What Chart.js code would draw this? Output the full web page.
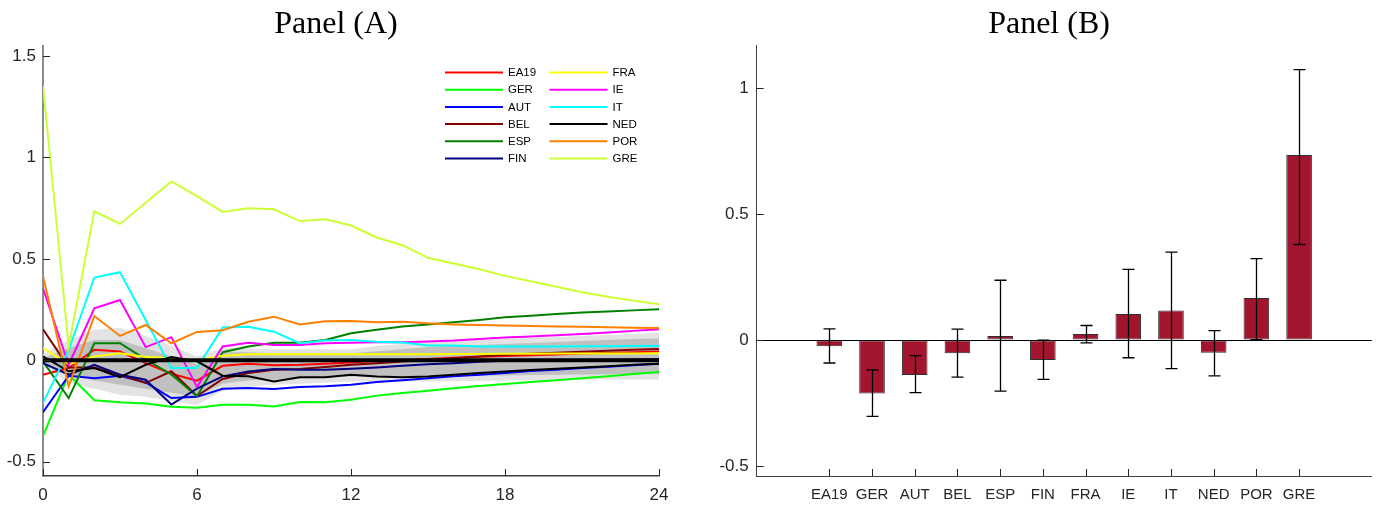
<!DOCTYPE html>
<html>
<head>
<meta charset="utf-8">
<script src="https://cdn.jsdelivr.net/npm/chart.js@4.4.1/dist/chart.umd.min.js"></script>
<style>
  body { margin: 0; background: #fff; }
  #panelA { position: absolute; left: 0; top: 0; }
  #panelB { position: absolute; left: 718px; top: 0; }
</style>
</head>
<body>
<canvas id="panelA" width="672" height="512"></canvas>
<canvas id="panelB" width="662" height="512"></canvas>
<script>
// 国家列表和颜色
const countries = ['EA19', 'GER', 'AUT', 'BEL', 'ESP', 'FIN', 'FRA', 'IE', 'IT', 'NED', 'POR', 'GRE'];
const lineColors = ['#ff0000', '#00ff00', '#0000ff', '#800000', '#008000', '#000080',
                    '#ffff00', '#ff00ff', '#00ffff', '#000000', '#ff8000', '#ccff33'];

// Panel (A) 横轴：月份
const months = [0, 1, 2, 3, 4, 5, 6, 7, 8, 9, 10, 11, 12, 13, 14, 15, 16, 17, 18, 19, 20, 21, 22, 23, 24];
const xTicksA = [0, 6, 12, 18, 24];
const yTicksA = [-0.5, 0, 0.5, 1, 1.5];

// 各国脉冲响应
const ea19 = [-0.071, -0.038, 0.052, 0.043, -0.014, -0.066, -0.100, -0.027, -0.017, -0.024, -0.022, -0.017, -0.011, -0.002, 0.002, 0.007, 0.012, 0.017, 0.021, 0.025, 0.029, 0.033, 0.036, 0.040, 0.043];
const ger = [-0.374, -0.070, -0.197, -0.207, -0.213, -0.229, -0.234, -0.219, -0.219, -0.227, -0.205, -0.207, -0.194, -0.174, -0.161, -0.150, -0.138, -0.127, -0.117, -0.107, -0.098, -0.088, -0.078, -0.068, -0.058];
const aut = [-0.256, -0.076, -0.088, -0.076, -0.109, -0.186, -0.180, -0.140, -0.137, -0.141, -0.131, -0.128, -0.120, -0.107, -0.098, -0.089, -0.079, -0.071, -0.062, -0.053, -0.047, -0.038, -0.032, -0.024, -0.017];
const bel = [0.153, -0.035, -0.035, -0.071, -0.112, -0.054, -0.176, -0.092, -0.063, -0.046, -0.043, -0.033, -0.022, -0.015, -0.006, 0.002, 0.010, 0.019, 0.027, 0.032, 0.037, 0.042, 0.047, 0.052, 0.056];
const esp = [-0.006, -0.186, 0.084, 0.084, 0.005, -0.070, -0.177, 0.040, 0.068, 0.087, 0.087, 0.100, 0.133, 0.150, 0.166, 0.177, 0.187, 0.199, 0.212, 0.220, 0.228, 0.236, 0.241, 0.246, 0.251];
const fin = [-0.014, -0.071, -0.022, -0.071, -0.096, -0.218, -0.140, -0.079, -0.055, -0.043, -0.047, -0.047, -0.042, -0.035, -0.027, -0.020, -0.014, -0.007, -0.002, 0.000, 0.001, 0.002, 0.003, 0.004, 0.005];
const fra = [0.060, -0.020, 0.019, 0.035, 0.016, 0.011, 0.002, 0.022, 0.030, 0.030, 0.030, 0.030, 0.030, 0.030, 0.030, 0.030, 0.031, 0.031, 0.032, 0.032, 0.033, 0.033, 0.034, 0.034, 0.035];
const ie = [0.354, -0.022, 0.256, 0.297, 0.065, 0.114, -0.132, 0.068, 0.087, 0.076, 0.076, 0.084, 0.087, 0.089, 0.089, 0.093, 0.097, 0.105, 0.112, 0.117, 0.124, 0.130, 0.137, 0.145, 0.153];
const it = [-0.210, 0.050, 0.408, 0.434, 0.199, -0.038, -0.038, 0.162, 0.165, 0.141, 0.084, 0.098, 0.100, 0.092, 0.088, 0.073, 0.073, 0.068, 0.068, 0.068, 0.068, 0.069, 0.069, 0.070, 0.071];
const ned = [0.019, -0.054, -0.038, -0.083, -0.022, 0.016, -0.005, -0.076, -0.079, -0.104, -0.083, -0.083, -0.071, -0.080, -0.083, -0.080, -0.071, -0.063, -0.055, -0.048, -0.042, -0.035, -0.029, -0.022, -0.017];
const por = [0.415, -0.128, 0.218, 0.120, 0.174, 0.084, 0.140, 0.148, 0.190, 0.215, 0.177, 0.192, 0.194, 0.187, 0.190, 0.182, 0.177, 0.174, 0.171, 0.169, 0.167, 0.165, 0.163, 0.161, 0.159];
const gre = [1.352, 0.070, 0.734, 0.672, 0.776, 0.881, 0.809, 0.731, 0.749, 0.744, 0.686, 0.695, 0.664, 0.605, 0.567, 0.505, 0.477, 0.449, 0.416, 0.390, 0.362, 0.335, 0.313, 0.294, 0.276];
const seriesA = [ea19, ger, aut, bel, esp, fin, fra, ie, it, ned, por, gre];

// 置信区间（外层浅灰、内层深灰）
const bandOuterHi = [0.03, 0.10, 0.15, 0.16, 0.12, 0.07, 0.02, 0.06, 0.06, 0.055, 0.055, 0.055, 0.055, 0.07, 0.08, 0.09, 0.095, 0.10, 0.105, 0.11, 0.115, 0.12, 0.125, 0.13, 0.135];
const bandOuterLo = [-0.03, -0.11, -0.14, -0.17, -0.18, -0.20, -0.22, -0.15, -0.13, -0.12, -0.115, -0.11, -0.105, -0.105, -0.105, -0.104, -0.103, -0.102, -0.10, -0.098, -0.097, -0.096, -0.095, -0.095, -0.095];
const bandInnerHi = [0.01, 0.06, 0.10, 0.10, 0.06, 0.02, -0.02, 0.04, 0.04, 0.035, 0.035, 0.035, 0.035, 0.045, 0.055, 0.065, 0.07, 0.075, 0.08, 0.085, 0.09, 0.095, 0.10, 0.105, 0.108];
const bandInnerLo = [-0.01, -0.07, -0.10, -0.12, -0.14, -0.16, -0.18, -0.115, -0.10, -0.095, -0.09, -0.085, -0.08, -0.08, -0.08, -0.08, -0.078, -0.076, -0.075, -0.073, -0.071, -0.07, -0.069, -0.068, -0.068];
const zeroLine = [0, 0, 0, 0, 0, 0, 0, 0, 0, 0, 0, 0, 0, 0, 0, 0, 0, 0, 0, 0, 0, 0, 0, 0, 0];

// Panel (B) 柱状图数据和误差范围
const barValues = [-0.024, -0.212, -0.139, -0.052, 0.016, -0.079, 0.024, 0.104, 0.118, -0.050, 0.167, 0.736];
const errHigh = [0.045, -0.118, -0.062, 0.044, 0.238, 0.000, 0.058, 0.281, 0.350, 0.038, 0.324, 1.075];
const errLow = [-0.091, -0.303, -0.209, -0.147, -0.203, -0.156, -0.011, -0.070, -0.113, -0.142, 0.002, 0.380];
const yTicksB = [-0.5, 0, 0.5, 1];

const sansFont = '"Liberation Sans", Arial, sans-serif';
const titleFont = { family: '"Liberation Serif", "Times New Roman", serif', size: 32, weight: 'normal', lineHeight: 1.2 };

// 刻度线画在坐标轴内侧
const innerTicks = {
    id: 'innerTicks',
    afterDraw(chart) {
        const { ctx, chartArea: area, scales: { x, y } } = chart;
        ctx.save();
        ctx.strokeStyle = '#262626';
        ctx.lineWidth = 1;
        ctx.beginPath();
        y.ticks.forEach(t => {
            const py = Math.round(y.getPixelForValue(t.value)) + 0.5;
            ctx.moveTo(area.left, py);
            ctx.lineTo(area.left + 7, py);
        });
        x.ticks.forEach(t => {
            const px = Math.round(x.getPixelForValue(t.value)) + 0.5;
            ctx.moveTo(px, area.bottom);
            ctx.lineTo(px, area.bottom - 7);
        });
        ctx.stroke();
        ctx.restore();
    }
};

// 阴影带：在曲线之前画，裁剪到坐标轴范围内
const bandsA = {
    id: 'bandsA',
    beforeDatasetsDraw(chart) {
        const { ctx, chartArea: area, scales: { x, y } } = chart;
        const bands = [
            { hi: bandOuterHi, lo: bandOuterLo, color: '#e3e3e3' },
            { hi: bandInnerHi, lo: bandInnerLo, color: '#c0c0c0' }
        ];
        const left = x.getPixelForValue(x.min);
        const right = x.getPixelForValue(x.max);
        ctx.save();
        ctx.beginPath();
        ctx.rect(left, area.top, right - left, area.bottom - area.top);
        ctx.clip();
        bands.forEach(b => {
            ctx.beginPath();
            months.forEach((m, i) => {
                const px = x.getPixelForValue(m), py = y.getPixelForValue(b.hi[i]);
                if (i === 0) ctx.moveTo(px, py); else ctx.lineTo(px, py);
            });
            for (let i = months.length - 1; i >= 0; i--) {
                ctx.lineTo(x.getPixelForValue(months[i]), y.getPixelForValue(b.lo[i]));
            }
            ctx.closePath();
            ctx.fillStyle = b.color;
            ctx.fill();
        });
        ctx.restore();
    }
};

// 两列图例（按列排列）
const legendA = {
    id: 'legendA',
    afterDraw(chart) {
        const ctx = chart.ctx;
        ctx.save();
        ctx.font = '11.5px ' + sansFont;
        ctx.textBaseline = 'middle';
        ctx.fillStyle = '#000';
        countries.forEach((name, i) => {
            const col = Math.floor(i / 6);
            const row = i % 6;
            const x0 = 445 + col * 104.5;
            const y0 = 72.5 + row * 17.2;
            ctx.strokeStyle = lineColors[i];
            ctx.lineWidth = 2;
            ctx.beginPath();
            ctx.moveTo(x0, y0);
            ctx.lineTo(x0 + 58, y0);
            ctx.stroke();
            ctx.fillText(name, x0 + 63, y0 + 0.5);
        });
        ctx.restore();
    }
};

// 误差线
const errorBars = {
    id: 'errorBars',
    afterDatasetsDraw(chart) {
        const { ctx, scales: { x, y } } = chart;
        ctx.save();
        ctx.strokeStyle = '#000';
        ctx.lineWidth = 1.3;
        countries.forEach((name, i) => {
            const px = Math.round(x.getPixelForValue(i + 1)) + 0.5;
            const top = y.getPixelForValue(errHigh[i]);
            const bot = y.getPixelForValue(errLow[i]);
            ctx.beginPath();
            ctx.moveTo(px, top); ctx.lineTo(px, bot);
            ctx.moveTo(px - 6, top); ctx.lineTo(px + 6, top);
            ctx.moveTo(px - 6, bot); ctx.lineTo(px + 6, bot);
            ctx.stroke();
        });
        ctx.restore();
    }
};

function renderPanelA() {
    const ctx = document.getElementById('panelA').getContext('2d');

    // 零线放在最上面，然后是各国曲线（GRE 在上）
    const datasets = [{
        data: zeroLine, borderColor: '#000', borderWidth: 4
    }];
    for (let i = countries.length - 1; i >= 0; i--) {
        datasets.push({ label: countries[i], data: seriesA[i], borderColor: lineColors[i], borderWidth: 2 });
    }

    new Chart(ctx, {
        type: 'line',
        data: { labels: months, datasets: datasets },
        options: {
            responsive: false,
            animation: false,
            devicePixelRatio: 1,
            events: [],
            layout: { padding: 0 },
            elements: { point: { radius: 0 }, line: { tension: 0, fill: false } },
            scales: {
                x: {
                    type: 'linear', min: 0, max: 24,
                    afterBuildTicks: axis => { axis.ticks = xTicksA.map(v => ({ value: v })); },
                    afterFit: axis => { axis.height = 36; axis.paddingLeft = 0; axis.paddingRight = 13; },
                    grid: { display: false, drawTicks: false },
                    border: { color: '#404040', width: 1.5 },
                    ticks: { color: '#262626', font: { family: sansFont, size: 17 }, padding: 9, maxRotation: 0 }
                },
                y: {
                    min: -0.57, max: 1.55,
                    afterBuildTicks: axis => { axis.ticks = yTicksA.map(v => ({ value: v })); },
                    afterFit: axis => { axis.width = 43; },
                    grid: { display: false, drawTicks: false },
                    border: { color: '#8c8c8c', width: 2 },
                    ticks: { color: '#262626', font: { family: sansFont, size: 17 }, padding: 7,
                             callback: v => String(v) }
                }
            },
            plugins: {
                legend: { display: false },
                tooltip: { enabled: false },
                title: { display: true, text: 'Panel (A)', color: '#000', font: titleFont, padding: { top: 5, bottom: 2.3 } }
            }
        },
        plugins: [bandsA, innerTicks, legendA]
    });
}

function renderPanelB() {
    const ctx = document.getElementById('panelB').getContext('2d');

    new Chart(ctx, {
        type: 'bar',
        data: {
            datasets: [{
                data: barValues.map((v, i) => ({ x: i + 1, y: v })),
                backgroundColor: '#a3142e',
                borderColor: '#2e2e2e',
                borderWidth: 1,
                borderSkipped: false,
                barPercentage: 0.6,
                categoryPercentage: 1
            }]
        },
        options: {
            responsive: false,
            animation: false,
            devicePixelRatio: 1,
            events: [],
            layout: { padding: 0 },
            scales: {
                x: {
                    type: 'linear', min: -0.1, max: 13.1,
                    afterBuildTicks: axis => { axis.ticks = countries.map((c, i) => ({ value: i + 1 })); },
                    afterFit: axis => { axis.height = 36; axis.paddingLeft = 0; axis.paddingRight = 8.3; },
                    grid: { display: false, drawTicks: false },
                    border: { color: '#404040', width: 1 },
                    ticks: { color: '#262626', font: { family: sansFont, size: 15 }, padding: 10, maxRotation: 0,
                             callback: v => countries[v - 1] }
                },
                y: {
                    min: -0.54, max: 1.17,
                    afterBuildTicks: axis => { axis.ticks = yTicksB.map(v => ({ value: v })); },
                    afterFit: axis => { axis.width = 38.7; },
                    grid: {
                        drawTicks: false,
                        color: c => (c.tick && c.tick.value === 0 ? '#000' : 'rgba(0,0,0,0)'),
                        lineWidth: 1
                    },
                    border: { color: '#404040', width: 1 },
                    ticks: { color: '#262626', font: { family: sansFont, size: 17 }, padding: 8,
                             callback: v => String(v) }
                }
            },
            plugins: {
                legend: { display: false },
                tooltip: { enabled: false },
                title: { display: true, text: 'Panel (B)', color: '#000', font: titleFont, padding: { top: 5, bottom: 2.3 } }
            }
        },
        plugins: [innerTicks, errorBars]
    });
}

document.addEventListener('DOMContentLoaded', function() {
    renderPanelA();
    renderPanelB();
});
</script>
</body>
</html>
